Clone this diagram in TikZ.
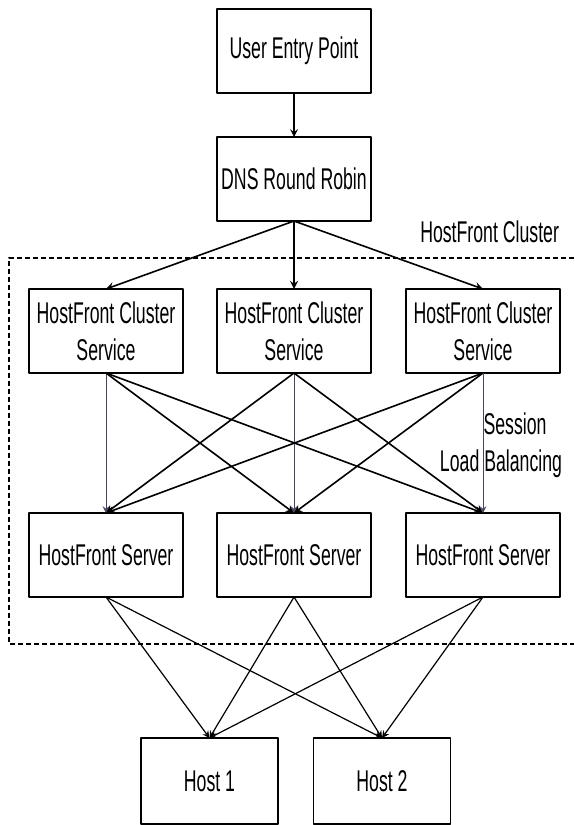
\documentclass[tikz,border=0pt]{standalone}
\usepackage{fontspec}
\setmainfont{Liberation Sans}[FakeStretch=0.59]
\definecolor{linkgray}{RGB}{70,70,100}
\tikzset{box/.style={draw, line width=0.9pt, inner sep=0pt, outer sep=0pt, minimum width=77pt, minimum height=42pt, align=center}}
\begin{document}
\begin{tikzpicture}[>=stealth, x=0.5pt, y=-0.5pt, line join=round, font=\fontsize{15}{18.3}\selectfont]
            \useasboundingbox (0,0) rectangle (574,825);
            \node[box] (entry) at (294,51) {User Entry Point};
            \node[box] (dns) at (294,179) {DNS Round Robin};
            \node[box] (svc1) at (106,331) {HostFront Cluster\\Service};
            \node[box] (svc2) at (294,331) {HostFront Cluster\\Service};
            \node[box] (svc3) at (483,331) {HostFront Cluster\\Service};
            \node[box] (srv1) at (106,555) {HostFront Server};
            \node[box] (srv2) at (294,555) {HostFront Server};
            \node[box] (srv3) at (483,555) {HostFront Server};
            \node[box, minimum width=68.5pt, minimum height=43pt] (host1) at (209.5,781) {Host 1};
            \node[box, minimum width=68.5pt, minimum height=43pt] (host2) at (382,781) {Host 2};
            \node[anchor=east] (cluster) at (566,232) {HostFront Cluster};
            \node[align=center] (session) at (501,445) {\hspace*{14pt}Session\\Load Balancing};
            \draw[dashed, dash pattern=on 2.5pt off 1.5pt, line width=0.6pt] (574,258) -| (9,644) -- (574,644);
            \draw[->, line width=0.7pt] (entry.south) -- (dns.north);
            \foreach \i in {1,2,3}{
                \draw[->, line width=0.8pt] (dns.south) -- (svc\i.north);
                \foreach \j in {1,2,3}{
                    \ifnum\i=\j
                        \draw[->, line width=0.5pt, linkgray] (svc\i.south) -- (srv\j.north);
                    \else
                        \draw[->, line width=0.8pt] (svc\i.south) -- (srv\j.north);
                    \fi
                }
                \foreach \j in {1,2}{
                    \draw[->, line width=0.6pt] (srv\i.south) -- (host\j.north);
                }
            }
        \end{tikzpicture}
\end{document}
